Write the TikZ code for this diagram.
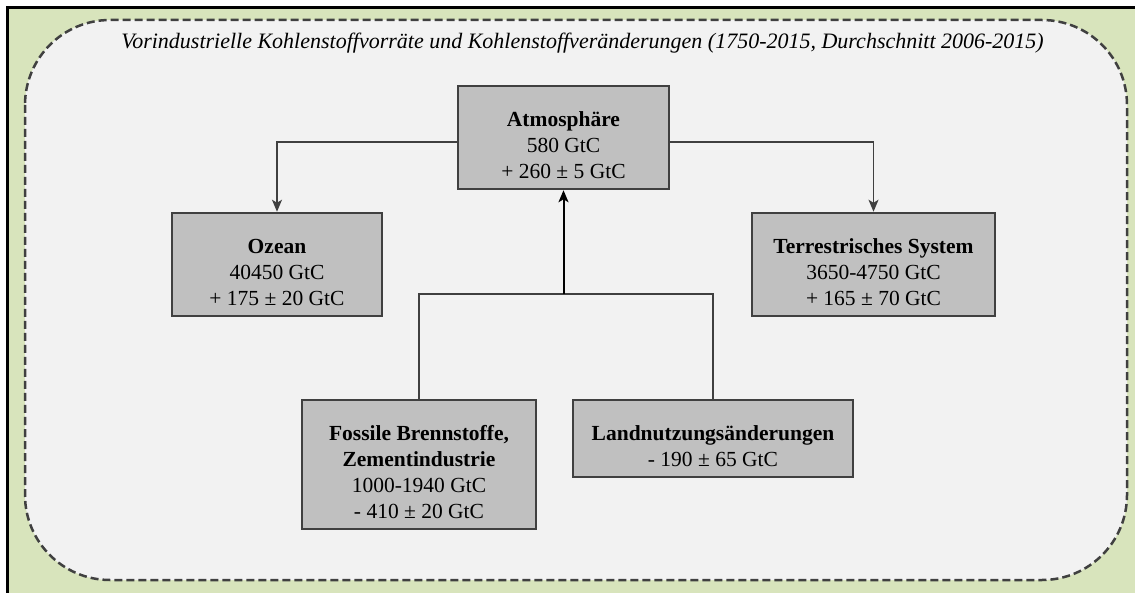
\documentclass[tikz,border=0pt]{standalone}
\usepackage{fontspec}
\setmainfont{Liberation Serif}
\usepackage{tikz}
\usetikzlibrary{calc}
\usetikzlibrary{positioning}
\usetikzlibrary{arrows.meta}

\definecolor{framegreen}{HTML}{D8E4BC}
\definecolor{panelgray}{HTML}{F2F2F2}
\definecolor{boxgray}{HTML}{C0C0C0}
\definecolor{edgegray}{HTML}{404040}

\newcommand{\pushdown}{\rule{0pt}{31pt}}

\begin{document}
\begin{tikzpicture}[x=1pt, y=-1pt, >={Stealth[length=12pt,width=10pt,inset=3pt]},
  stock/.style={draw=edgegray, line width=2.5pt, fill=boxgray, align=center,
    inner sep=0pt, font=\fontsize{21.5}{26}\selectfont},
  flow/.style={draw=edgegray, line width=1.5pt}]
\useasboundingbox (0,0) rectangle (1135,593);
\fill[white] (0,0) rectangle (1135,593);
\draw[line width=3pt, fill=framegreen] (7,8) rectangle (1160,620);
\draw[edgegray, line width=2.5pt, dash pattern=on 8pt off 4pt, fill=panelgray,
  rounded corners=85pt] (25,20) rectangle (1127,580);

\node[font=\fontsize{22}{26}\selectfont\itshape] (title) at (582.5,43)
  {Vorindustrielle Kohlenstoffvorräte und Kohlenstoffveränderungen (1750-2015, Durchschnitt 2006-2015)};

\node[stock, minimum width=211pt, minimum height=103pt] (atm) at (563.5,137.5)
  {\pushdown\textbf{Atmosphäre}\\580 GtC\\+ 260 ± 5 GtC};
\node[stock, minimum width=210pt, minimum height=103pt] (ozean) at (277,264.5)
  {\pushdown\textbf{Ozean}\\40450 GtC\\+ 175 ± 20 GtC};
\node[stock, minimum width=243pt, minimum height=103pt] (terr) at (873.5,264.5)
  {\pushdown\textbf{Terrestrisches System}\\3650-4750 GtC\\+ 165 ± 70 GtC};
\node[stock, minimum width=234pt, minimum height=129pt] (fossil) at (419,464.5)
  {\pushdown\textbf{Fossile Brennstoffe,}\\\textbf{Zementindustrie}\\1000-1940 GtC\\- 410 ± 20 GtC};
\node[stock, minimum width=280pt, minimum height=77pt] (land) at (713,438.5)
  {\pushdown\textbf{Landnutzungsänderungen}\\- 190 ± 65 GtC};

% Atmosphaere -> Ozean / Terrestrisches System
\draw[flow, ->] ([yshift=-4.5pt]atm.west) -| (ozean.north);
\draw[flow, ->] ([yshift=-4.5pt]atm.east) -| (terr.north);

% Emissionen -> Atmosphaere
\coordinate (join) at (atm.south |- 0,294);
\draw[flow] (fossil.north) |- (land.north |- join) -- (land.north);
\draw[line width=2pt, ->] (join) -- (atm.south);

\end{tikzpicture}
\end{document}
